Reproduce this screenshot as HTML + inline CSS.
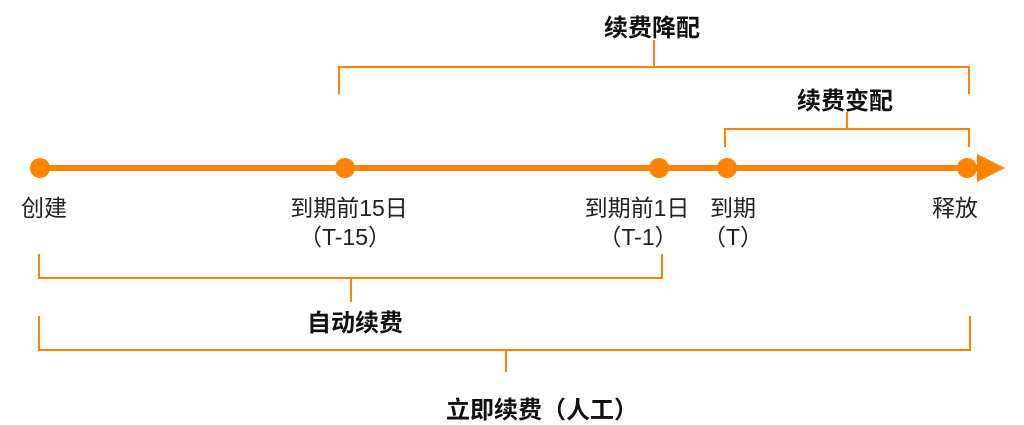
<!DOCTYPE html>
<html><head><meta charset="utf-8"><style>
html,body{margin:0;padding:0;background:#fff;}
svg{display:block}
text{font-family:"Liberation Sans","Noto Sans CJK SC",sans-serif;fill:#222;}
.b{font-weight:bold;font-size:24px;fill:#111}
.n{font-size:23px}
</style></head><body>
<svg width="1024" height="425" viewBox="0 0 1024 425">
<g stroke="#FF8200" fill="none" stroke-width="2">
<polyline points="339,94 339,67 969,67 969,94"/>
<line x1="654" y1="40" x2="654" y2="67"/>
<polyline points="725,147 725,129 969,129 969,147"/>
<line x1="847" y1="112" x2="847" y2="129"/>
<polyline points="39,254 39,278 662,278 662,254"/>
<line x1="351" y1="278" x2="351" y2="302"/>
<polyline points="39,316 39,350 970,350 970,316"/>
<line x1="506" y1="350" x2="506" y2="372"/>
</g>
<line x1="40" y1="168" x2="980" y2="168" stroke="#FF8200" stroke-width="6"/>
<polygon points="977,154 1005,168 977,182" fill="#FF8200"/>
<g fill="#FF8200">
<circle cx="40" cy="168" r="10"/>
<circle cx="345" cy="168" r="10"/>
<circle cx="659" cy="168" r="10"/>
<circle cx="727" cy="168" r="10"/>
<circle cx="967" cy="168" r="10"/>
</g>
<g text-anchor="middle">
<text class="b" x="652" y="36">续费降配</text>
<text class="b" x="845" y="109">续费变配</text>
<text class="b" x="355" y="331">自动续费</text>
<text class="b" x="542" y="418">立即续费（人工）</text>
<text class="n" x="44" y="216">创建</text>
<text class="n" x="349" y="216">到期前15日</text>
<text class="n" x="345" y="245">（T-15）</text>
<text class="n" x="637" y="216">到期前1日</text>
<text class="n" x="638" y="245">（T-1）</text>
<text class="n" x="733" y="216">到期</text>
<text class="n" x="733" y="245">（T）</text>
<text class="n" x="955" y="216">释放</text>
</g>
</svg>
</body></html>
